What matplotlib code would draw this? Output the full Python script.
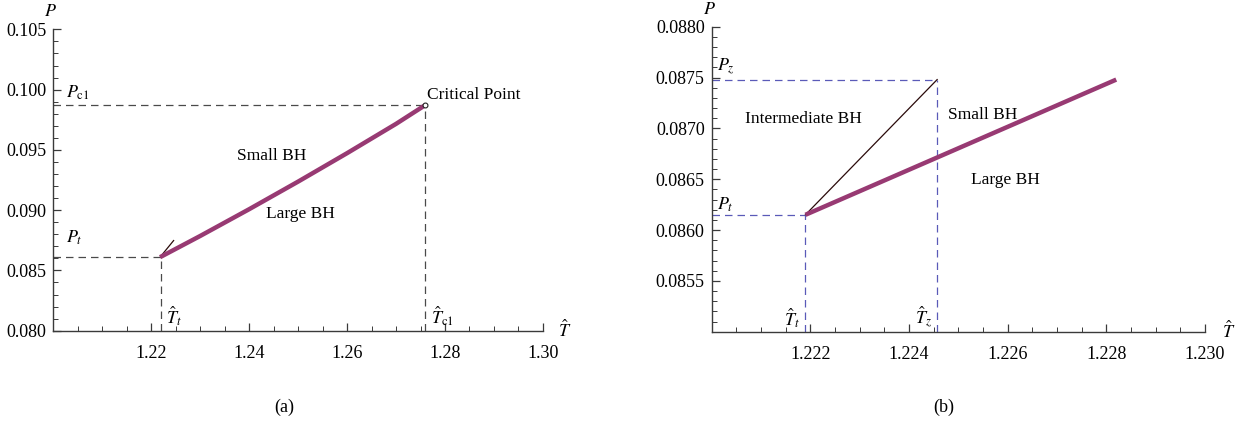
import matplotlib
matplotlib.use("Agg")
import matplotlib.pyplot as plt
from matplotlib.ticker import MultipleLocator, FormatStrFormatter

plt.rcParams['font.family'] = ['Liberation Serif', 'DejaVu Serif']
plt.rcParams['mathtext.fontset'] = 'stix'

# (a) coexistence line small/large BH, ending at the critical point
coex_T_a = [1.2218, 1.23, 1.24, 1.25, 1.26, 1.27, 1.2759]
coex_P_a = [0.08610, 0.08786, 0.09008, 0.09237, 0.09473, 0.09716, 0.0987]
Tt, Pt = 1.2219, 0.08615
Tc1, Pc1 = 1.2759, 0.0987
Tz, Pz = 1.22457, 0.08748

# (b) zoom near the triple point
coex_T_b = [1.2219, 1.2282]
coex_P_b = [0.08615, 0.08748]
inter_T = [Tt, Tz]
inter_P = [Pt, Pz]

purple = '#983a73'
axis_col = '#3a3a3a'

fig = plt.figure(figsize=(12.49, 4.25), dpi=100)
ax1 = fig.add_axes([0.0427, 0.2219, 0.392, 0.709])
ax2 = fig.add_axes([0.5698, 0.2195, 0.395, 0.7176])


def style_axes(ax):
    for s in ['top', 'right']:
        ax.spines[s].set_visible(False)
    for s in ['left', 'bottom']:
        ax.spines[s].set_color(axis_col)
        ax.spines[s].set_linewidth(1.0)
    ax.tick_params(which='major', direction='in', length=6, width=0.9,
                   color=axis_col, labelsize=13, pad=5)
    ax.tick_params(axis='x', which='major', pad=10)
    ax.tick_params(which='minor', direction='in', length=3.5, width=0.7,
                   color=axis_col)


# ---- panel (a)
ax1.set_xlim(1.20, 1.30)
ax1.set_ylim(0.080, 0.105)
style_axes(ax1)
ax1.xaxis.set_major_locator(MultipleLocator(0.02))
ax1.xaxis.set_minor_locator(MultipleLocator(0.005))
ax1.yaxis.set_major_locator(MultipleLocator(0.005))
ax1.yaxis.set_minor_locator(MultipleLocator(0.001))
ax1.xaxis.set_major_formatter(FormatStrFormatter('%.2f'))
ax1.yaxis.set_major_formatter(FormatStrFormatter('%.3f'))
ax1.set_xticks([1.22, 1.24, 1.26, 1.28, 1.30])

dash_a = dict(color='#4a4a4a', lw=0.9, ls=(0, (6, 4)))
ax1.plot([1.20, Tc1], [Pc1, Pc1], **dash_a)
ax1.plot([Tc1, Tc1], [0.080, Pc1], **dash_a)
ax1.plot([1.20, Tt], [Pt, Pt], **dash_a)
ax1.plot([Tt, Tt], [0.080, Pt], **dash_a)
ax1.plot(inter_T, inter_P, color='#2a0a0a', lw=0.9)
ax1.plot(coex_T_a, coex_P_a, color=purple, lw=3.2, solid_capstyle='butt',
         solid_joinstyle='round')
ax1.plot([Tc1], [Pc1], marker='o', ms=3.5, mfc='white', mec='#222222', mew=0.8)

ax1.text(Tc1 + 0.0005, Pc1 + 0.0002, 'Critical Point', fontsize=12.5, va='bottom', ha='left')
ax1.text(1.2445, 0.0945, 'Small BH', fontsize=12.5, ha='center', va='center')
ax1.text(1.2504, 0.0897, 'Large BH', fontsize=12.5, ha='center', va='center')
ax1.text(1.2025, Pc1 + 0.0003, r'$P_{\mathrm{c}1}$', fontsize=13, va='bottom')
ax1.text(1.2025, Pt + 0.0008, r'$P_t$', fontsize=13, va='bottom')
ax1.text(Tt + 0.0012, 0.0802, r'$\hat{T}_t$', fontsize=13, va='bottom')
ax1.text(Tc1 + 0.0012, 0.0802, r'$\hat{T}_{\mathrm{c}1}$', fontsize=13, va='bottom')
ax1.text(-0.005, 1.03, r'$P$', transform=ax1.transAxes, fontsize=13, ha='center', va='bottom')
ax1.text(1.03, 0.0, r'$\hat{T}$', transform=ax1.transAxes, fontsize=13, ha='left', va='center')

# ---- panel (b)
ax2.set_xlim(1.220, 1.230)
ax2.set_ylim(0.0850, 0.0880)
style_axes(ax2)
ax2.xaxis.set_major_locator(MultipleLocator(0.002))
ax2.xaxis.set_minor_locator(MultipleLocator(0.0005))
ax2.yaxis.set_major_locator(MultipleLocator(0.0005))
ax2.yaxis.set_minor_locator(MultipleLocator(0.0001))
ax2.set_xticks([1.222, 1.224, 1.226, 1.228, 1.230])
ax2.set_yticks([0.0855, 0.0860, 0.0865, 0.0870, 0.0875, 0.0880])
ax2.xaxis.set_major_formatter(FormatStrFormatter('%.3f'))
ax2.yaxis.set_major_formatter(FormatStrFormatter('%.4f'))

dash_b = dict(color='#5a5ab8', lw=0.9, ls=(0, (6, 4)))
ax2.plot([1.220, Tz], [Pz, Pz], **dash_b)
ax2.plot([Tz, Tz], [0.0850, Pz], **dash_b)
ax2.plot([1.220, Tt], [Pt, Pt], **dash_b)
ax2.plot([Tt, Tt], [0.0850, Pt], **dash_b)
ax2.plot(inter_T, inter_P, color='#2a0a0a', lw=0.9)
ax2.plot(coex_T_b, coex_P_b, color=purple, lw=3.2, solid_capstyle='butt')

ax2.text(1.22185, 0.08709, 'Intermediate BH', fontsize=12.5, ha='center', va='center')
ax2.text(1.2255, 0.08713, 'Small BH', fontsize=12.5, ha='center', va='center')
ax2.text(1.22595, 0.08649, 'Large BH', fontsize=12.5, ha='center', va='center')
ax2.text(1.2201, Pz + 0.00003, r'$P_z$', fontsize=13, va='bottom')
ax2.text(1.2201, Pt + 0.00001, r'$P_t$', fontsize=13, va='bottom')
ax2.text(Tt - 0.0001, 0.08502, r'$\hat{T}_t$', fontsize=13, ha='right', va='bottom')
ax2.text(Tz - 0.0001, 0.08502, r'$\hat{T}_z$', fontsize=13, ha='right', va='bottom')
ax2.text(-0.005, 1.03, r'$P$', transform=ax2.transAxes, fontsize=13, ha='center', va='bottom')
ax2.text(1.035, 0.0, r'$\hat{T}$', transform=ax2.transAxes, fontsize=13, ha='left', va='center')

fig.text(284 / 1249, 1 - 407 / 425, '(a)', fontsize=13, ha='center', va='center')
fig.text(944 / 1249, 1 - 407 / 425, '(b)', fontsize=13, ha='center', va='center')

fig.savefig('out.png', dpi=100)
